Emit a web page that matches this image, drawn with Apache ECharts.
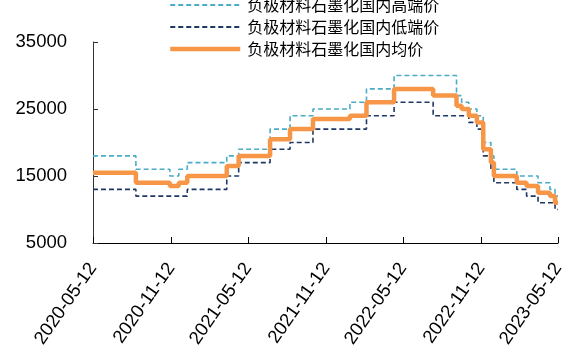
<!DOCTYPE html>
<html>
<head>
<meta charset="utf-8">
<script src="https://cdn.jsdelivr.net/npm/echarts@6/dist/echarts.min.js"></script>
<style>
html,body{margin:0;padding:0;background:#fff;}
#chart{width:576px;height:362px;}
</style>
</head>
<body>
<div id="chart"></div>
<script>
var changeDates = ['2020-05-12','2020-08-21','2020-11-09','2020-11-30','2020-12-20','2021-03-23','2021-04-20','2021-07-03','2021-08-19','2021-10-12','2022-01-07','2022-02-15','2022-04-21','2022-07-22','2022-09-15','2022-09-27','2022-10-14','2022-11-02','2022-11-17','2022-12-05','2022-12-12','2023-02-04','2023-02-27','2023-03-26','2023-04-23','2023-05-05','2023-05-12'];
var highValues = [18000,16000,15000,16000,17000,18000,19000,22000,24000,25000,26000,28000,30000,30000,27000,26000,25000,24000,20000,18000,16000,15000,15000,14000,13000,12000,12000];
var lowValues  = [13000,12000,12000,12000,13000,15000,17000,19000,20000,22000,22000,24000,26000,24000,24000,24000,23000,22000,18000,16000,14000,13000,12000,11000,11000,10000,10000];
var avgValues  = [15500,14000,13500,14000,15000,16500,18000,20500,22000,23500,24000,26000,28000,27000,25500,25000,24000,23000,19000,17000,15000,14000,13500,12500,12000,11000,11000];
var tickLabels = ['2020-05-12','2020-11-12','2021-05-12','2021-11-12','2022-05-12','2022-11-12','2023-05-12'];
var seriesNames = ['负极材料石墨化国内高端价','负极材料石墨化国内低端价','负极材料石墨化国内均价'];

// x position = days since first tick date (UTC-based to avoid DST effects)
function dayNum(s){ var p = s.split('-'); return Date.UTC(+p[0], +p[1]-1, +p[2]) / 86400000; }
var day0 = dayNum(tickLabels[0]);
function xOf(s){ return dayNum(s) - day0; }
function pad(n){ return n < 10 ? '0' + n : '' + n; }
function fmtDay(v){ var d = new Date((v + day0) * 86400000); return d.getUTCFullYear() + '-' + pad(d.getUTCMonth()+1) + '-' + pad(d.getUTCDate()); }
function zip(vals){ return changeDates.map(function(d,i){ return [xOf(d), vals[i]]; }); }
var tickPos = tickLabels.map(xOf);

var chart = echarts.init(document.getElementById('chart'));
chart.setOption({
  animation: false,
  legend: {
    orient: 'vertical',
    left: 163,
    top: -8,
    itemWidth: 70,
    itemHeight: 14,
    itemGap: 6,
    itemStyle: { opacity: 0 },
    textStyle: { fontFamily: 'Noto Sans CJK SC', fontSize: 16, color: '#000', padding: [0, 0, 0, 2] },
    data: [
      { name: seriesNames[0], lineStyle: { width: 2 } },
      { name: seriesNames[1], lineStyle: { width: 2 } },
      { name: seriesNames[2], lineStyle: { width: 4.5 } }
    ]
  },
  grid: { left: 93, right: 18, top: 42, bottom: 119, containLabel: false },
  xAxis: {
    type: 'value',
    min: tickPos[0],
    max: tickPos[tickPos.length-1],
    splitLine: { show: false },
    axisLine: { lineStyle: { color: '#000', width: 1 } },
    axisTick: { show: true, inside: true, length: 6, customValues: tickPos, lineStyle: { color: '#000' } },
    axisLabel: {
      customValues: tickPos,
      rotate: 55,
      margin: 22,
      fontFamily: 'Liberation Sans, Arial',
      fontSize: 18.5,
      color: '#000',
      formatter: function(v){ return fmtDay(v); }
    }
  },
  yAxis: {
    type: 'value',
    min: 5000,
    max: 35000,
    interval: 10000,
    splitLine: { show: false },
    axisLine: { show: true, lineStyle: { color: '#333', width: 1 } },
    axisTick: { show: true, inside: true, length: 5, lineStyle: { color: '#333' } },
    axisLabel: { fontFamily: 'Liberation Sans, Arial', fontSize: 18.5, color: '#000', margin: 26,
      formatter: function(v){ return String(v); } }
  },
  series: [
    {
      name: seriesNames[0], type: 'line', step: 'end', symbol: 'none',
      data: zip(highValues),
      itemStyle: { color: '#4bacc6' },
      lineStyle: { color: '#4bacc6', width: 1.6, type: [5, 3] }
    },
    {
      name: seriesNames[1], type: 'line', step: 'end', symbol: 'none',
      data: zip(lowValues),
      itemStyle: { color: '#1f3864' },
      lineStyle: { color: '#1f3864', width: 1.6, type: [5, 3] }
    },
    {
      name: seriesNames[2], type: 'line', step: 'end', symbol: 'none',
      data: zip(avgValues),
      itemStyle: { color: '#f79646' },
      lineStyle: { color: '#f79646', width: 4.5 }
    }
  ]
});
</script>
</body>
</html>
